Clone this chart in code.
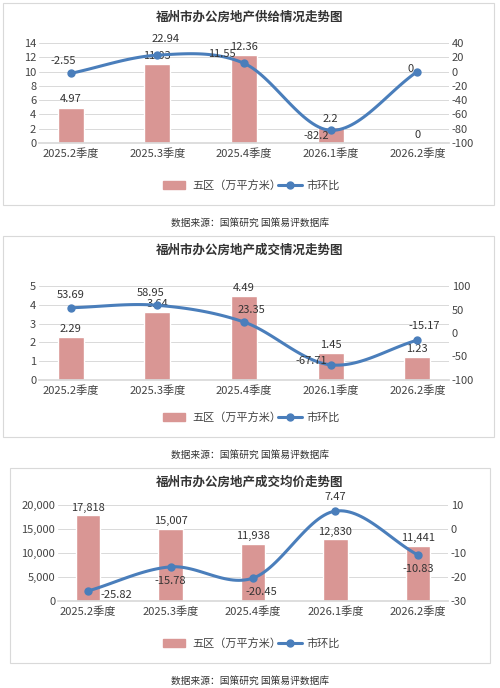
import numpy as np, pandas as pd, seaborn as sns, matplotlib
matplotlib.use('Agg')
import matplotlib.pyplot as plt
from matplotlib.patches import Rectangle
from matplotlib.lines import Line2D

sns.set_theme(style='white')
plt.rcParams['font.family'] = ['Noto Sans CJK SC', 'DejaVu Sans']

quarters = ['2025.2季度', '2025.3季度', '2025.4季度', '2026.1季度', '2026.2季度']
supply = [4.97, 11.03, 12.36, 2.2, 0]
supply_qoq = [-2.55, 22.94, 11.55, -82.2, 0]
deal = [2.29, 3.64, 4.49, 1.45, 1.23]
deal_qoq = [53.69, 58.95, 23.35, -67.71, -15.17]
price = [17818, 15007, 11938, 12830, 11441]
price_qoq = [-25.82, -15.78, -20.45, 7.47, -10.83]
titles = ['福州市办公房地产供给情况走势图', '福州市办公房地产成交情况走势图', '福州市办公房地产成交均价走势图']

BAR = '#d99694'; LINE = '#4a7ebb'
W, H = 500, 688
fig = plt.figure(figsize=(5, 6.88), dpi=100)

def spline(y, n=30):
    x = np.arange(len(y), dtype=float); y = np.asarray(y, float)
    m = np.gradient(y, x)
    xs, ys = [], []
    for i in range(len(y) - 1):
        t = np.linspace(0, 1, n)
        h00 = 2*t**3-3*t**2+1; h10 = t**3-2*t**2+t; h01 = -2*t**3+3*t**2; h11 = t**3-t**2
        xs += list(x[i] + t); ys += list(h00*y[i] + h10*m[i] + h01*y[i+1] + h11*m[i+1])
    return np.array(xs), np.array(ys)

def panel(box, axx, zero_px, top_px, bars, line, ylim, yticks, rlim, rticks, title, fmt, rfmt, loffs):
    bx0, by0, bx1, by1 = box
    fig.patches.append(Rectangle((bx0/W, 1-by1/H), (bx1-bx0)/W, (by1-by0)/H, transform=fig.transFigure,
                                 fill=False, edgecolor='#d9d9d9', lw=0.8))
    ax = fig.add_axes([axx[0]/W, 1-zero_px/H, (axx[1]-axx[0])/W, (zero_px-top_px)/H])
    df = pd.DataFrame({'q': quarters, 'v': bars})
    sns.barplot(data=df, x='q', y='v', color=BAR, width=0.3, ax=ax, saturation=1)
    ax.set_ylim(*ylim); ax.set_yticks(yticks)
    ax.set_yticklabels([fmt(v) for v in yticks], fontsize=8, color='#444')
    ax.set_xlabel(''); ax.set_ylabel('')
    ax.tick_params(axis='x', labelsize=8, colors='#444', length=0)
    ax.tick_params(axis='y', length=0, pad=2)
    ax.yaxis.grid(True, color='#d9d9d9', lw=0.7); ax.set_axisbelow(True)
    for s in ax.spines.values(): s.set_visible(False)
    ax.spines['bottom'].set_visible(True); ax.spines['bottom'].set_color('#d9d9d9')
    for i, v in enumerate(bars):
        ax.text(i, v + (ylim[1]-ylim[0])*0.03, fmt(v) if v >= 1000 else f'{v:g}', ha='center', va='bottom', fontsize=8, color='#333')
    ax2 = ax.twinx()
    xs, ys = spline(line)
    ax2.plot(xs, ys, color=LINE, lw=2.2)
    ax2.plot(range(5), line, 'o', color=LINE, ms=5)
    ax2.set_ylim(*rlim); ax2.set_yticks(rticks)
    ax2.set_yticklabels([rfmt(v) for v in rticks], fontsize=8, color='#444')
    ax2.tick_params(length=0, pad=2); ax2.grid(False)
    for s in ax2.spines.values(): s.set_visible(False)
    for i, v in enumerate(line):
        dx, dy = loffs[i]
        ax2.annotate(f'{v:g}', (i, v), xytext=(dx, dy), textcoords='offset points',
                     ha='center', va='center', fontsize=8, color='#333')
    fig.text(250/W, 1-(by0+14)/H, title, ha='center', va='center', fontsize=9, fontweight='bold', color='#333')
    ly = 1-(by1-20)/H
    fig.patches.append(Rectangle((163/W, ly-4/H), 22/W, 8/H, transform=fig.transFigure, color=BAR))
    fig.text(192/W, ly, '五区（万平方米）', va='center', fontsize=8, color='#444')
    fig.lines.append(Line2D([278/W, 290/W, 302/W], [ly, ly, ly], transform=fig.transFigure, color=LINE, lw=2.2,
                            marker='o', markevery=[1], ms=5))
    fig.text(306/W, ly, '市环比', va='center', fontsize=8, color='#444')
    fig.text(250/W, 1-(by1+18)/H, '数据来源：国策研究 国策易评数据库', ha='center', va='center', fontsize=7, color='#333')

plain = lambda v: f'{v:g}'
comma = lambda v: f'{v:,.0f}'
panel((3, 3, 494, 205), (39, 449), 143, 43, supply, supply_qoq, (0, 14), range(0, 15, 2), (-100, 40), range(-100, 41, 20),
      titles[0], plain, plain, [(-5, 9), (6, 12), (-16, 7), (-10, -4), (-5, 2)])
panel((3, 236, 494, 437), (39, 449), 380, 286, deal, deal_qoq, (0, 5), range(0, 6), (-100, 100), range(-100, 101, 50),
      titles[1], plain, plain, [(0, 9), (-5, 9), (5, 9), (-14, 3), (5, 10)])
panel((10, 468, 490, 663), (58, 448), 601, 505, price, price_qoq, (0, 20000), range(0, 20001, 5000), (-30, 10), range(-30, 11, 10),
      titles[2], comma, plain, [(20, -3), (0, -10), (6, -10), (0, 10), (0, -10)])
fig.savefig('out.png', dpi=100, facecolor='white')
